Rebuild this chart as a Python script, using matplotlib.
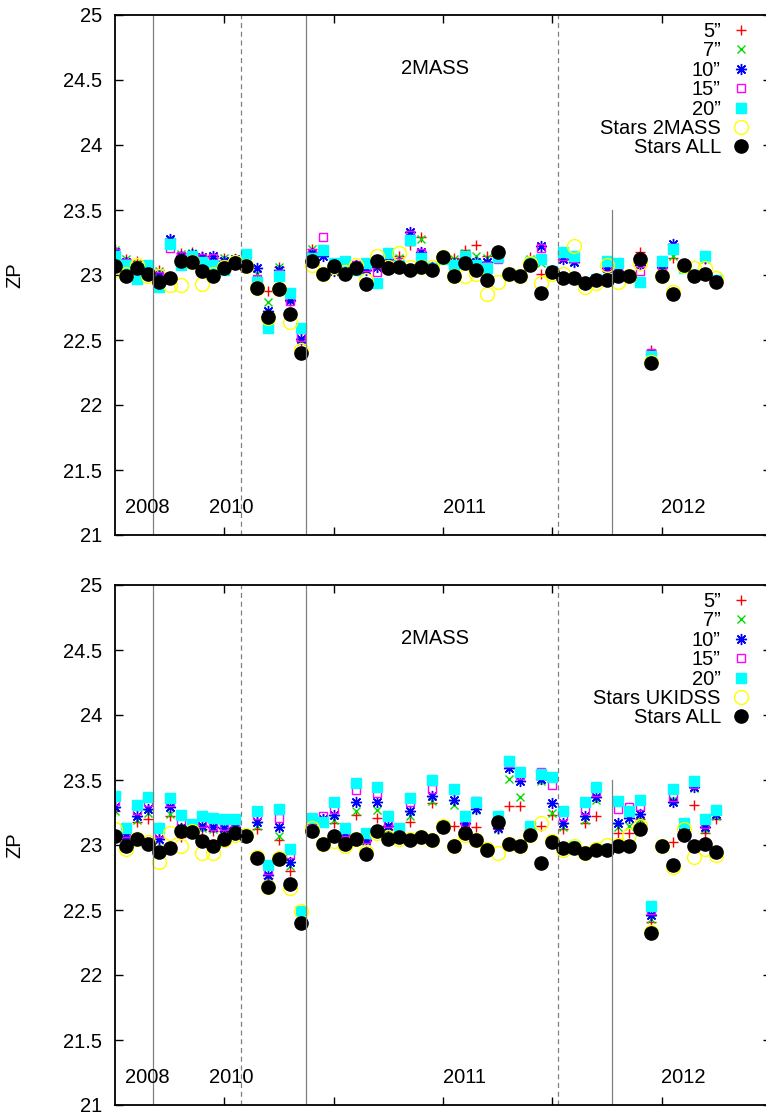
import matplotlib
matplotlib.use("Agg")
import matplotlib.pyplot as plt
import numpy as np

plt.rcParams['font.family'] = ['Liberation Sans', 'DejaVu Sans']

# observation index (x axis)
idx = np.arange(56)

stars_all = [23.07, 22.99, 23.05, 23.01, 22.95, 22.98, 23.11, 23.10, 23.03, 22.99,
             23.05, 23.09, 23.07, 22.90, 22.68, 22.89, 22.70, 22.40, 23.11, 23.01,
             23.07, 23.01, 23.05, 22.93, 23.11, 23.05, 23.06, 23.04, 23.06, 23.04,
             23.14, 22.99, 23.09, 23.04, 22.96, 23.18, 23.01, 22.99, 23.08, 22.86,
             23.02, 22.98, 22.98, 22.94, 22.96, 22.96, 22.99, 22.99, 23.12, 22.32,
             22.99, 22.85, 23.08, 22.99, 23.01, 22.95]

# ---- top panel (2MASS stars)
top_5 = [23.20, 23.12, 23.11, 23.04, 23.04, 23.27, 23.17, 23.18, 23.15, 23.13,
         23.13, 23.12, 23.14, 22.96, 22.88, 23.06, 22.80, 22.49, 23.20, 23.17,
         23.06, 23.11, 23.08, 23.05, 23.06, 23.11, 23.15, 23.23, 23.29, 23.06,
         23.13, 23.13, 23.19, 23.23, 23.15, 23.14, 23.02, 22.99, 23.14, 23.01,
         23.03, 23.14, 23.11, 22.95, 22.97, 23.03, 23.02, 22.99, 23.18, 22.42,
         23.05, 23.13, 23.07, 23.00, 23.12, 22.96]
top_7 = [23.19, 23.12, 23.09, 23.04, 23.03, 23.27, 23.16, 23.17, 23.14, 23.14,
         23.13, 23.12, 23.14, 23.01, 22.79, 23.06, 22.80, 22.49, 23.20, 23.17,
         23.06, 23.11, 23.08, 23.05, 23.06, 23.12, 23.13, 23.32, 23.28, 23.06,
         23.13, 23.12, 23.17, 23.15, 23.13, 23.14, 23.02, 22.99, 23.12, 23.09,
         23.03, 23.14, 23.11, 22.95, 22.97, 23.03, 23.02, 22.99, 23.11, 22.38,
         23.05, 23.15, 23.07, 23.00, 23.12, 22.96]
top_10 = [23.18, 23.10, 23.03, 23.04, 23.00, 23.28, 23.15, 23.16, 23.14, 23.15,
          23.11, 23.12, 23.14, 23.05, 22.72, 23.04, 22.81, 22.51, 23.17, 23.15,
          23.03, 23.09, 23.08, 23.04, 23.06, 23.12, 23.10, 23.33, 23.18, 23.06,
          23.13, 23.09, 23.15, 23.10, 23.10, 23.14, 23.02, 22.99, 23.09, 23.22,
          23.03, 23.12, 23.10, 22.95, 22.97, 23.05, 23.03, 22.99, 23.08, 22.39,
          23.06, 23.24, 23.07, 23.00, 23.13, 22.96]
top_15 = [23.17, 23.09, 23.03, 23.04, 22.99, 23.21, 23.15, 23.15, 23.13, 23.13,
          23.08, 23.11, 23.13, 22.97, 22.62, 23.01, 22.80, 22.52, 23.17, 23.29,
          23.08, 23.08, 23.08, 23.06, 23.02, 23.13, 23.10, 23.31, 23.17, 23.06,
          23.13, 23.05, 23.14, 23.07, 23.07, 23.12, 23.02, 22.99, 23.09, 23.21,
          23.03, 23.15, 23.13, 22.95, 22.97, 23.06, 23.04, 22.99, 23.03, 22.40,
          23.06, 23.21, 23.07, 23.00, 23.14, 22.96]
top_20 = [23.15, 23.08, 22.97, 23.08, 22.91, 23.24, 23.08, 23.15, 23.10, 23.08,
          23.04, 23.10, 23.16, 22.95, 22.59, 22.99, 22.86, 22.59, 23.13, 23.19,
          23.09, 23.11, 23.04, 23.09, 22.94, 23.17, 23.08, 23.27, 23.13, 23.05,
          23.12, 23.08, 23.15, 23.08, 23.05, 23.14, 23.01, 22.99, 23.10, 23.12,
          23.03, 23.18, 23.15, 22.94, 22.97, 23.11, 23.09, 22.99, 22.95, 22.38,
          23.11, 23.20, 23.05, 23.00, 23.15, 22.96]
stars_2mass = [23.04, 23.01, 23.08, 22.99, 22.99, 22.92, 22.92, 23.10, 22.93, 23.01,
               23.06, 23.10, 23.07, 22.90, 22.67, 22.89, 22.64, 22.42, 23.08, 23.01,
               23.06, 23.02, 23.08, 22.96, 23.15, 23.06, 23.17, 23.06, 23.06, 23.06,
               23.14, 22.99, 22.99, 23.01, 22.85, 22.95, 23.01, 22.99, 23.09, 22.94,
               23.01, 23.01, 23.22, 22.91, 22.94, 23.08, 22.95, 22.99, 23.09, 22.33,
               22.99, 22.87, 23.07, 23.05, 23.05, 22.98]

# ---- bottom panel (UKIDSS stars)
bot_5 = [23.26, 23.05, 23.18, 23.20, 23.05, 23.22, 23.06, 23.12, 23.12, 23.11,
         23.11, 23.12, 23.08, 23.12, 22.75, 23.04, 22.80, 22.48, 23.16, 23.20,
         23.17, 23.07, 23.23, 23.03, 23.21, 23.12, 23.09, 23.18, 23.06, 23.32,
         23.15, 23.15, 23.16, 23.14, 22.97, 23.12, 23.30, 23.30, 23.12, 23.15,
         23.23, 23.12, 22.99, 23.17, 23.22, 22.97, 23.09, 23.09, 23.20, 22.41,
         22.99, 23.02, 23.12, 23.31, 23.09, 23.20]
bot_7 = [23.26, 23.05, 23.19, 23.25, 23.04, 23.24, 23.11, 23.12, 23.13, 23.12,
         23.11, 23.12, 23.08, 23.15, 22.76, 23.07, 22.84, 22.48, 23.16, 23.20,
         23.19, 23.07, 23.26, 23.03, 23.27, 23.12, 23.09, 23.22, 23.06, 23.34,
         23.15, 23.31, 23.16, 23.27, 22.97, 23.12, 23.51, 23.37, 23.12, 23.49,
         23.25, 23.14, 22.99, 23.19, 23.35, 22.97, 23.14, 23.15, 23.20, 22.43,
         22.99, 23.35, 23.12, 23.44, 23.12, 23.22]
bot_10 = [23.29, 23.07, 23.22, 23.28, 23.05, 23.29, 23.13, 23.13, 23.15, 23.14,
          23.13, 23.14, 23.08, 23.18, 22.77, 23.14, 22.87, 22.47, 23.17, 23.20,
          23.23, 23.08, 23.33, 23.04, 23.33, 23.15, 23.09, 23.26, 23.06, 23.38,
          23.15, 23.35, 23.17, 23.28, 22.97, 23.13, 23.59, 23.49, 23.12, 23.51,
          23.32, 23.17, 22.99, 23.22, 23.37, 22.97, 23.17, 23.21, 23.24, 22.46,
          22.99, 23.33, 23.12, 23.45, 23.14, 23.24]
bot_15 = [23.34, 23.09, 23.27, 23.33, 23.09, 23.33, 23.18, 23.14, 23.17, 23.15,
          23.15, 23.15, 23.08, 23.23, 22.81, 23.21, 22.93, 22.48, 23.19, 23.22,
          23.28, 23.10, 23.42, 23.05, 23.40, 23.17, 23.09, 23.33, 23.06, 23.43,
          23.15, 23.42, 23.18, 23.34, 22.97, 23.18, 23.63, 23.54, 23.14, 23.56,
          23.46, 23.22, 22.99, 23.27, 23.41, 22.97, 23.28, 23.29, 23.30, 22.50,
          22.99, 23.37, 23.12, 23.47, 23.16, 23.26]
bot_20 = [23.38, 23.13, 23.31, 23.37, 23.13, 23.36, 23.23, 23.16, 23.22, 23.21,
          23.20, 23.20, 23.08, 23.26, 22.85, 23.28, 22.97, 22.49, 23.21, 23.18,
          23.33, 23.13, 23.48, 23.09, 23.45, 23.22, 23.13, 23.36, 23.06, 23.50,
          23.15, 23.43, 23.22, 23.33, 22.97, 23.22, 23.65, 23.56, 23.15, 23.55,
          23.52, 23.26, 22.99, 23.33, 23.45, 22.97, 23.34, 23.26, 23.35, 22.53,
          22.99, 23.43, 23.17, 23.49, 23.20, 23.27]
stars_ukidss = [23.12, 22.97, 23.05, 23.02, 22.87, 23.09, 22.99, 23.11, 22.94, 22.94,
                23.04, 23.08, 23.08, 22.91, 22.68, 22.90, 22.67, 22.49, 23.13, 23.01,
                23.03, 22.99, 23.05, 22.95, 23.09, 23.06, 23.05, 23.05, 23.06, 23.04,
                23.15, 22.99, 23.08, 23.04, 22.97, 22.94, 23.01, 22.99, 23.08, 23.17,
                23.03, 22.96, 22.99, 22.94, 22.97, 23.00, 23.00, 23.08, 23.15, 22.33,
                22.99, 22.83, 23.12, 22.91, 22.97, 22.92]

year_labels = ['2008', '2010', '2011', '2012']
year_pos = [3.0, 10.6, 32.0, 52.0]
solid_breaks = [3.5, 17.5]
dashed_breaks = [11.5, 40.5]
short_break = 45.5


def draw_panel(ax, s5, s7, s10, s15, s20, ref, ref_label, legend_top):
    ax.plot(idx, s5, ls='none', marker='+', ms=7, mew=1, color='red', label='5\u201d')
    ax.plot(idx, s7, ls='none', marker='x', ms=6, mew=1, color='#00dd00', label='7\u201d')
    ax.plot(idx, s10, ls='none', marker=(8, 2, 0), ms=8, mew=1, color='blue', label='10\u201d')
    ax.plot(idx, s15, ls='none', marker='s', ms=6, mew=1, mfc='none', mec='magenta', label='15\u201d')
    ax.plot(idx, s20, ls='none', marker='s', ms=7, color='cyan', label='20\u201d')
    ax.plot(idx, ref, ls='none', marker='o', ms=10, mew=1, mfc='none', mec='yellow', label=ref_label)
    ax.plot(idx, stars_all, ls='none', marker='o', ms=9.5, color='black', label='Stars ALL')

    for x in solid_breaks:
        ax.axvline(x, color='grey', lw=0.9)
    for x in dashed_breaks:
        ax.axvline(x, color='grey', lw=0.9, ls=(0, (4, 3)))
    ax.plot([short_break, short_break], [21, 23.5], color='grey', lw=0.9)

    for lab, x in zip(year_labels, year_pos):
        ax.text(x, 21.21, lab, ha='center', va='center', fontsize=14.5)
    ax.text(29.3, 24.59, '2MASS', ha='center', va='center', fontsize=14.5)

    ax.set_xlim(0, 60)
    ax.set_ylim(21, 25)
    ax.set_xticks([10, 20, 30, 40, 50])
    ax.set_xticklabels([])
    ax.set_yticks(np.arange(21, 25.01, 0.5))
    ax.set_yticklabels(['%g' % v for v in np.arange(21, 25.01, 0.5)])
    ax.tick_params(direction='in', length=6, width=1, top=True, right=True,
                   labelsize=14.5, pad=9)
    for sp in ax.spines.values():
        sp.set_linewidth(1.3)
    ax.set_ylabel('ZP', fontsize=14.5)
    ax.yaxis.set_label_coords(-0.138, 0.5)

    ax.legend(loc='upper right', bbox_to_anchor=(751 / 766, 1 - legend_top / 1115),
              bbox_transform=ax.figure.transFigure, markerfirst=False, frameon=False,
              fontsize=14.5, handlelength=1.0, handletextpad=0.5, labelspacing=0.02,
              borderpad=0.0, borderaxespad=0.0)


fig = plt.figure(figsize=(7.66, 11.15), dpi=100)
ax1 = fig.add_axes([115 / 766, 1 - 535 / 1115, 656 / 766, 520 / 1115])
ax2 = fig.add_axes([115 / 766, 1 - 1105 / 1115, 656 / 766, 520 / 1115])

draw_panel(ax1, top_5, top_7, top_10, top_15, top_20, stars_2mass, 'Stars 2MASS', 22)
draw_panel(ax2, bot_5, bot_7, bot_10, bot_15, bot_20, stars_ukidss, 'Stars UKIDSS', 592)

fig.savefig('out.png', dpi=100)
